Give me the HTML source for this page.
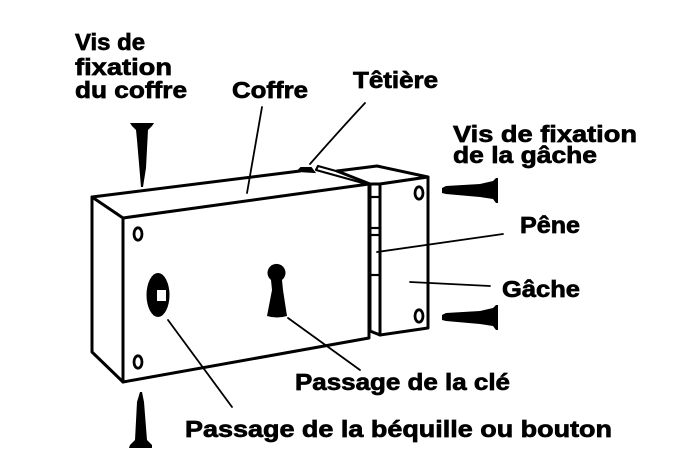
<!DOCTYPE html>
<html>
<head>
<meta charset="utf-8">
<style>
  html, body { margin: 0; padding: 0; background: #fff; }
  body { width: 673px; height: 452px; overflow: hidden; }
  svg { display: block; }
  text { font-family: "Liberation Sans", "DejaVu Sans", sans-serif; font-weight: bold; font-size: 23px; fill: #000; stroke: #000; stroke-width: 0.7px; }
</style>
</head>
<body>
<svg width="673" height="452" viewBox="0 0 673 452" xmlns="http://www.w3.org/2000/svg">
  <rect width="673" height="452" fill="#fff"/>

  <!-- Coffre body -->
  <g fill="#fff" stroke="#000" stroke-width="3" stroke-linejoin="round">
    <polygon points="92,197 123,218 123,382 92,352"/>
    <polygon points="123,218 369,184 369,338 123,382"/>
  </g>
  <line x1="92" y1="197" x2="300" y2="171" stroke="#000" stroke-width="3" stroke-linecap="round"/>
  <!-- têtière lump & bar -->
  <path d="M298,171 L301,168 L311,168 L314,172 Z" fill="#000" stroke="#000" stroke-width="2"/>
  <path d="M318,166 L372,181 L370,185 L316,170 Z" fill="#fff" stroke="#000" stroke-width="2.2" stroke-linejoin="round"/>

  <!-- Gâche -->
  <g fill="#fff" stroke="#000" stroke-width="3" stroke-linejoin="round">
    <polygon points="337,171 377,166 428,177 380,184 370,184"/>
    <polygon points="370,184 380,184 380,335 370,331"/>
    <polygon points="380,184 428,177 428,328 380,335"/>
  </g>
  <g stroke="#000" stroke-width="2.2">
    <line x1="370" y1="197" x2="380" y2="197"/>
    <line x1="370" y1="228" x2="380" y2="228"/>
    <line x1="370" y1="235" x2="380" y2="235"/>
    <line x1="370" y1="275" x2="380" y2="275"/>
  </g>

  <!-- holes -->
  <g fill="none" stroke="#000" stroke-width="2.8">
    <ellipse cx="138" cy="234" rx="4" ry="6.2"/>
    <ellipse cx="138" cy="362" rx="4" ry="6.2"/>
    <ellipse cx="419" cy="193" rx="4" ry="6.2"/>
    <ellipse cx="419" cy="316" rx="4" ry="6.2"/>
  </g>

  <!-- handle passage -->
  <ellipse cx="158" cy="295" rx="11.5" ry="22" fill="#000"/>
  <rect x="157" y="290" width="9" height="11" fill="#fff"/>

  <!-- keyhole -->
  <path d="M271,280 A9,9 0 1 1 282,280 L283,290 L287,316 Q277,319 267,316 L272,290 Z" fill="#000"/>

  <!-- screws -->
  <polygon points="130,123 154,123 152,126 148,130 146,168 143,187 141,187 137,140 136,130 132,126" fill="#000"/>
  <polygon points="140,392 142,392 144,402 147,440 152,445 152,448 129,448 130,445 135,440 137,402" fill="#000"/>
  <polygon points="442,188 446,186 480,184 493,181 496,178 498,178 498,203 496,203 493,199 480,197 446,194 442,193" fill="#000"/>
  <polygon points="442,315 446,313 480,311 493,308 496,305 498,305 498,330 496,330 493,326 480,324 446,321 442,320" fill="#000"/>

  <!-- leader lines -->
  <g stroke="#000" stroke-width="1.8" fill="none" stroke-linecap="round">
    <line x1="262" y1="107" x2="247" y2="193"/>
    <path d="M365,103 Q338,132 310,164"/>
    <line x1="503" y1="234" x2="377" y2="252"/>
    <line x1="490" y1="286" x2="410" y2="282"/>
    <line x1="168" y1="320" x2="232" y2="407"/>
    <line x1="288" y1="318" x2="360" y2="370"/>
  </g>

  <!-- labels -->
  <text x="75" y="50" textLength="70" lengthAdjust="spacingAndGlyphs">Vis de</text>
  <text x="75" y="75" textLength="97" lengthAdjust="spacingAndGlyphs">fixation</text>
  <text x="75" y="98" textLength="112" lengthAdjust="spacingAndGlyphs">du coffre</text>
  <text x="232" y="98" textLength="76" lengthAdjust="spacingAndGlyphs">Coffre</text>
  <text x="353" y="88" textLength="85" lengthAdjust="spacingAndGlyphs">Têtière</text>
  <text x="453" y="142" textLength="184" lengthAdjust="spacingAndGlyphs">Vis de fixation</text>
  <text x="453" y="163" textLength="144" lengthAdjust="spacingAndGlyphs">de la gâche</text>
  <text x="520" y="233" textLength="60" lengthAdjust="spacingAndGlyphs">Pêne</text>
  <text x="502" y="297" textLength="78" lengthAdjust="spacingAndGlyphs">Gâche</text>
  <text x="295" y="390" textLength="215" lengthAdjust="spacingAndGlyphs">Passage de la clé</text>
  <text x="185" y="437" textLength="427" lengthAdjust="spacingAndGlyphs">Passage de la béquille ou bouton</text>
</svg>
</body>
</html>
